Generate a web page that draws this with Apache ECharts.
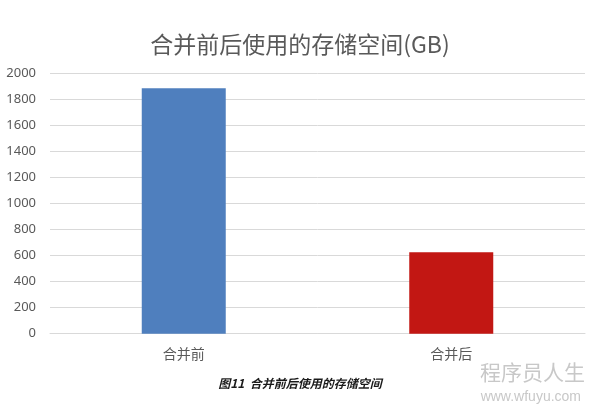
<!DOCTYPE html>
<html>
<head>
<meta charset="utf-8">
<script src="https://cdn.jsdelivr.net/npm/echarts@6/dist/echarts.min.js"></script>
<style>
html,body{margin:0;padding:0;background:#fff;}
#main{width:600px;height:408px;}
</style>
</head>
<body>
<div id="main"></div>
<script>
const categories = ['合并前', '合并后'];
const values = [1885, 625];
const barColors = ['#4f7fbe', '#c21713'];
const yTicks = { min: 0, max: 2000, interval: 200 };
const titleText = '合并前后使用的存储空间(GB)';
const captionText = '图11  合并前后使用的存储空间';
const watermark1 = '程序员人生';
const watermark2 = 'www.wfuyu.com';

const chart = echarts.init(document.getElementById('main'), null, { renderer: 'canvas' });
const cjk = '"Noto Sans CJK SC", "Noto Sans", sans-serif';
chart.setOption({
  backgroundColor: '#ffffff',
  animation: false,
  title: {
    text: titleText,
    left: 'center',
    top: 28,
    textStyle: { fontFamily: cjk, fontSize: 23, fontWeight: 'normal', color: '#595959' }
  },
  grid: { left: 50, right: 15, top: 73.3, bottom: 74.3, containLabel: false },
  xAxis: {
    type: 'category',
    data: categories,
    axisLine: { show: true, lineStyle: { color: '#d9d9d9', width: 1 } },
    axisTick: { show: false },
    axisLabel: { margin: 13, fontFamily: cjk, fontSize: 14, color: '#595959' }
  },
  yAxis: {
    type: 'value',
    min: yTicks.min,
    max: yTicks.max,
    interval: yTicks.interval,
    axisLine: { show: false },
    axisTick: { show: false },
    axisLabel: { margin: 14, fontFamily: '"Noto Sans", sans-serif', fontSize: 13, color: '#595959', formatter: v => String(v) },
    splitLine: { lineStyle: { color: '#d9d9d9', width: 1 } }
  },
  series: [{
    type: 'bar',
    data: values.map((v, i) => ({ value: v, itemStyle: { color: barColors[i] } })),
    barWidth: 84
  }],
  graphic: [
    {
      type: 'text', left: 'center', top: 377,
      style: { text: captionText, font: 'italic bold 12px ' + cjk, fill: '#1a1a1a' }
    },
    {
      type: 'text', right: 15, top: 362,
      style: { text: watermark1, font: '21px ' + cjk, fill: '#c8c8c8' }
    },
    {
      type: 'text', right: 19, top: 390,
      style: { text: watermark2, font: '14px "Liberation Sans Narrow", "Liberation Sans", sans-serif', fill: '#c8c8c8' }
    }
  ]
});
</script>
</body>
</html>
